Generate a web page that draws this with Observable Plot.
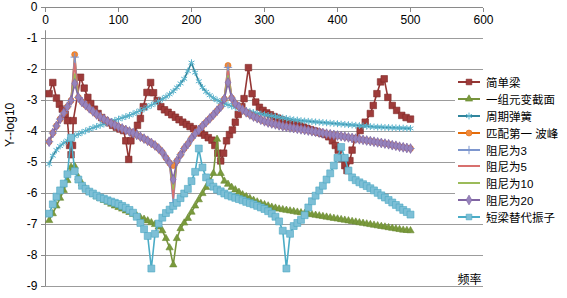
<!DOCTYPE html>
<html><head><meta charset="utf-8">
<script src="https://cdn.jsdelivr.net/npm/d3@7"></script>
<script src="https://cdn.jsdelivr.net/npm/@observablehq/plot@0.6"></script>
<style>
body{margin:0;background:#fff;}
#wrap{position:relative;width:567px;height:298px;font-family:"Liberation Sans","Noto Sans CJK SC",sans-serif;}
#wrap > svg{position:absolute;left:0;top:0;}
#legend{position:absolute;left:455px;top:73.5px;width:112px;height:150px;background:#fff;}
.row{height:16.9px;display:flex;align-items:center;font-size:11.5px;white-space:nowrap;color:#000;}
.row svg{flex:none;margin-left:3px;margin-right:6px;}
</style></head><body><div id="wrap"><div id="legend"></div></div>
<script>
const xTicks = [0,100,200,300,400,500,600];
const yTicks = [0,-1,-2,-3,-4,-5,-6,-7,-8,-9];
const yGrid = [-1,-2,-3,-4,-5,-6,-7,-8,-9];

const seriesNames = ["简单梁","一组元变截面","周期弹簧","匹配第一 波峰","阻尼为3","阻尼为5","阻尼为10","阻尼为20","短梁替代振子"];

const freq = [5,10,15,20,25,30,35,40,45,50,
55,60,65,70,75,80,85,90,95,100,
105,110,115,120,125,130,135,140,145,150,
155,160,165,170,175,180,185,190,195,200,
205,210,215,220,225,230,235,240,245,250,
255,260,265,270,275,280,285,290,295,300,
305,310,315,320,325,330,335,340,345,350,
355,360,365,370,375,380,385,390,395,400,
405,410,415,420,425,430,435,440,445,450,
455,460,465,470,475,480,485,490,495,500];

const simpleBeamF = [5,10,15,19,23,27,30,33,35,37,38,48,53,58,62,67,72,77,82,87,92,97,102,107,110,114,117,121,126,130,134,139,144,148,153,158,163,168,173,178,183,188,193,198,203,208,213,218,223,228,232,236,240,244,248,252,256,260,264,269,272,278,283,288,293,298,303,308,313,318,323,328,333,338,343,348,353,358,363,368,373,378,383,388,393,397,401,406,410,413,417,420,424,431,438,445,449,454,459,464,469,475,481,488,494,500];
const simpleBeam = [-2.78,-2.42,-2.92,-3.12,-3.28,-3.45,-3.65,-4.45,-4.75,-4.45,
-3.65,-2.25,-2.6,-2.9,-3.1,-3.28,-3.42,-3.55,-3.65,-3.72,
-3.8,-3.86,-3.92,-3.97,-4.3,-4.9,-4.3,-4.05,-3.8,-3.58,
-3.2,-2.74,-2.42,-2.75,-3.0,-3.2,-3.3,-3.38,-3.46,-3.54,
-3.62,-3.7,-3.77,-3.84,-3.91,-3.98,-4.05,-4.12,-4.2,-4.28,
-4.45,-4.7,-4.95,-4.7,-4.3,-4.1,-3.95,-3.7,-3.45,-3.2,
-2.94,-1.94,-2.78,-3.05,-3.22,-3.32,-3.4,-3.46,-3.52,-3.57,
-3.62,-3.66,-3.7,-3.74,-3.78,-3.82,-3.86,-3.9,-3.94,-3.98,
-4.02,-4.06,-4.1,-4.17,-4.3,-4.45,-4.6,-4.87,-5.1,-5.26,
-4.94,-4.6,-4.23,-3.97,-3.7,-3.42,-3.16,-2.78,-2.4,-2.3,
-2.9,-3.16,-3.32,-3.48,-3.55,-3.6];

const oneElement = [-6.87,-6.65,-6.4,-6.15,-5.9,-5.58,-5.15,-5.12,-5.48,-5.68,
-5.85,-5.95,-6.03,-6.1,-6.16,-6.22,-6.28,-6.34,-6.4,-6.45,
-6.5,-6.56,-6.61,-6.67,-6.72,-6.78,-6.83,-6.88,-6.94,-7.0,
-7.08,-7.2,-7.45,-7.75,-8.3,-7.45,-7.13,-6.95,-6.8,-6.6,
-6.4,-6.2,-6.0,-5.8,-5.6,-5.35,-4.25,-5.35,-5.6,-5.7,
-5.8,-5.88,-5.96,-6.04,-6.1,-6.16,-6.22,-6.27,-6.32,-6.36,
-6.4,-6.44,-6.47,-6.5,-6.52,-6.54,-6.56,-6.58,-6.6,-6.62,
-6.64,-6.66,-6.68,-6.7,-6.72,-6.74,-6.76,-6.78,-6.8,-6.82,
-6.84,-6.86,-6.88,-6.9,-6.92,-6.94,-6.96,-6.98,-7.0,-7.02,
-7.04,-7.06,-7.08,-7.1,-7.12,-7.14,-7.16,-7.18,-7.19,-7.2];

const periodicSpring = [-5.05,-4.78,-4.6,-4.47,-4.37,-4.29,-4.22,-4.15,-4.09,-4.03,
-3.98,-3.93,-3.88,-3.84,-3.8,-3.76,-3.72,-3.68,-3.64,-3.6,
-3.56,-3.52,-3.48,-3.43,-3.38,-3.32,-3.27,-3.21,-3.15,-3.09,
-3.02,-2.95,-2.88,-2.8,-2.7,-2.58,-2.45,-2.3,-2.05,-1.78,
-2.1,-2.38,-2.58,-2.72,-2.83,-2.92,-2.99,-3.05,-3.1,-3.14,
-3.18,-3.22,-3.26,-3.3,-3.33,-3.36,-3.39,-3.42,-3.44,-3.46,
-3.48,-3.5,-3.52,-3.54,-3.56,-3.58,-3.6,-3.62,-3.63,-3.65,
-3.66,-3.67,-3.68,-3.69,-3.7,-3.71,-3.72,-3.73,-3.74,-3.75,
-3.76,-3.77,-3.78,-3.79,-3.8,-3.81,-3.82,-3.83,-3.84,-3.85,
-3.86,-3.86,-3.87,-3.87,-3.88,-3.88,-3.89,-3.89,-3.9,-3.9];

const matchedPeak = [-4.33,-4.05,-3.82,-3.6,-3.4,-3.2,-3.0,-1.52,-2.9,-3.05,
-3.15,-3.25,-3.35,-3.45,-3.53,-3.6,-3.67,-3.73,-3.79,-3.85,
-3.9,-3.95,-4.0,-4.05,-4.11,-4.17,-4.23,-4.3,-4.37,-4.45,
-4.55,-4.67,-4.85,-5.02,-5.1,-4.95,-4.75,-4.55,-4.4,-4.22,
-4.07,-3.95,-3.82,-3.7,-3.58,-3.46,-3.33,-3.2,-2.95,-1.87,
-2.92,-3.1,-3.2,-3.3,-3.38,-3.45,-3.52,-3.57,-3.62,-3.67,
-3.71,-3.74,-3.77,-3.8,-3.83,-3.85,-3.87,-3.89,-3.91,-3.93,
-3.95,-3.97,-3.99,-4.01,-4.03,-4.05,-4.07,-4.09,-4.11,-4.13,
-4.15,-4.17,-4.19,-4.21,-4.23,-4.25,-4.27,-4.29,-4.31,-4.33,
-4.35,-4.37,-4.39,-4.41,-4.44,-4.46,-4.49,-4.51,-4.53,-4.55];

const damping3 = [-4.33,-4.05,-3.82,-3.6,-3.4,-3.2,-3.0,-1.6,-2.9,-3.05,
-3.15,-3.25,-3.35,-3.45,-3.53,-3.6,-3.67,-3.73,-3.79,-3.85,
-3.9,-3.95,-4.0,-4.05,-4.11,-4.17,-4.23,-4.3,-4.37,-4.45,
-4.55,-4.67,-4.85,-5.02,-6.3,-4.95,-4.75,-4.55,-4.4,-4.22,
-4.07,-3.95,-3.82,-3.7,-3.58,-3.46,-3.33,-3.2,-2.95,-1.93,
-2.92,-3.1,-3.2,-3.3,-3.38,-3.45,-3.52,-3.57,-3.62,-3.67,
-3.71,-3.74,-3.77,-3.8,-3.83,-3.85,-3.87,-3.89,-3.91,-3.93,
-3.95,-3.97,-3.99,-4.01,-4.03,-4.05,-4.07,-4.09,-4.11,-4.13,
-4.15,-4.17,-4.19,-4.21,-4.23,-4.25,-4.27,-4.29,-4.31,-4.33,
-4.35,-4.37,-4.39,-4.41,-4.44,-4.46,-4.49,-4.51,-4.53,-4.55];

const damping5 = [-4.33,-4.05,-3.82,-3.6,-3.4,-3.2,-3.0,-1.8,-2.9,-3.05,
-3.15,-3.25,-3.35,-3.45,-3.53,-3.6,-3.67,-3.73,-3.79,-3.85,
-3.9,-3.95,-4.0,-4.05,-4.11,-4.17,-4.23,-4.3,-4.37,-4.45,
-4.55,-4.67,-4.85,-5.02,-6.15,-4.95,-4.75,-4.55,-4.4,-4.22,
-4.07,-3.95,-3.82,-3.7,-3.58,-3.46,-3.33,-3.2,-2.95,-2.05,
-2.92,-3.1,-3.2,-3.3,-3.38,-3.45,-3.52,-3.57,-3.62,-3.67,
-3.71,-3.74,-3.77,-3.8,-3.83,-3.85,-3.87,-3.89,-3.91,-3.93,
-3.95,-3.97,-3.99,-4.01,-4.03,-4.05,-4.07,-4.09,-4.11,-4.13,
-4.15,-4.17,-4.19,-4.21,-4.23,-4.25,-4.27,-4.29,-4.31,-4.33,
-4.35,-4.37,-4.39,-4.41,-4.44,-4.46,-4.49,-4.51,-4.53,-4.55];

const damping10 = [-4.33,-4.05,-3.82,-3.6,-3.4,-3.2,-3.0,-2.15,-2.9,-3.05,
-3.15,-3.25,-3.35,-3.45,-3.53,-3.6,-3.67,-3.73,-3.79,-3.85,
-3.9,-3.95,-4.0,-4.05,-4.11,-4.17,-4.23,-4.3,-4.37,-4.45,
-4.55,-4.67,-4.85,-5.02,-5.85,-4.95,-4.75,-4.55,-4.4,-4.22,
-4.07,-3.95,-3.82,-3.7,-3.58,-3.46,-3.33,-3.2,-2.95,-2.2,
-2.92,-3.1,-3.2,-3.3,-3.38,-3.45,-3.52,-3.57,-3.62,-3.67,
-3.71,-3.74,-3.77,-3.8,-3.83,-3.85,-3.87,-3.89,-3.91,-3.93,
-3.95,-3.97,-3.99,-4.01,-4.03,-4.05,-4.07,-4.09,-4.11,-4.13,
-4.15,-4.17,-4.19,-4.21,-4.23,-4.25,-4.27,-4.29,-4.31,-4.33,
-4.35,-4.37,-4.39,-4.41,-4.44,-4.46,-4.49,-4.51,-4.53,-4.55];

const damping20 = [-4.33,-4.05,-3.82,-3.6,-3.4,-3.2,-3.0,-2.45,-2.9,-3.05,
-3.15,-3.25,-3.35,-3.45,-3.53,-3.6,-3.67,-3.73,-3.79,-3.85,
-3.9,-3.95,-4.0,-4.05,-4.11,-4.17,-4.23,-4.3,-4.37,-4.45,
-4.55,-4.67,-4.85,-5.02,-5.55,-4.95,-4.75,-4.55,-4.4,-4.22,
-4.07,-3.95,-3.82,-3.7,-3.58,-3.46,-3.33,-3.2,-2.95,-2.42,
-2.92,-3.1,-3.2,-3.3,-3.38,-3.45,-3.52,-3.57,-3.62,-3.67,
-3.71,-3.74,-3.77,-3.8,-3.83,-3.85,-3.87,-3.89,-3.91,-3.93,
-3.95,-3.97,-3.99,-4.01,-4.03,-4.05,-4.07,-4.09,-4.11,-4.13,
-4.15,-4.17,-4.19,-4.21,-4.23,-4.25,-4.27,-4.29,-4.31,-4.33,
-4.35,-4.37,-4.39,-4.41,-4.44,-4.46,-4.49,-4.51,-4.53,-4.55];

const shortBeam = [-6.65,-6.35,-6.1,-5.9,-5.68,-5.38,-4.2,-5.28,-5.55,-5.75,
-5.85,-5.94,-6.0,-6.07,-6.13,-6.17,-6.22,-6.26,-6.3,-6.34,
-6.4,-6.46,-6.53,-6.62,-6.75,-6.95,-7.15,-7.37,-8.42,-7.3,
-6.97,-6.78,-6.63,-6.52,-6.4,-6.3,-6.15,-6.0,-5.85,-5.6,
-5.3,-4.55,-5.16,-5.48,-5.65,-5.78,-5.87,-5.93,-6.0,-6.06,
-6.1,-6.14,-6.18,-6.22,-6.27,-6.31,-6.35,-6.4,-6.45,-6.5,
-6.57,-6.65,-6.75,-6.9,-7.2,-8.42,-7.3,-7.05,-6.95,-6.85,
-6.7,-6.45,-6.25,-6.07,-5.9,-5.75,-5.55,-5.35,-5.1,-4.85,
-4.5,-4.85,-5.26,-5.48,-5.57,-5.64,-5.7,-5.76,-5.83,-5.9,
-5.98,-6.06,-6.13,-6.21,-6.29,-6.37,-6.45,-6.53,-6.6,-6.68];

const seriesX = [simpleBeamF, freq, freq, freq, freq, freq, freq, freq, freq];
const seriesY = [simpleBeam, oneElement, periodicSpring, matchedPeak, damping3, damping5, damping10, damping20, shortBeam];

const lineColors = ["#953735","#77933C","#31859C","#E46C0A","#7D96CE","#D8706E","#9BBB59","#8064A2","#4BACC6"];
const markerSymbols = ["square","triangle","asterisk","circle","plus",null,null,"diamond","square"];
const markerR = [3.7,2.7,3.2,3.0,2.8,0,0,3.0,3.9];
const markerFill = ["#9E3B3A","#7A9A3C","none","#F08A3C","none",null,null,"#9683BC","#7DBFD6"];
const markerStroke = ["#7F2A28","#6A8A32","#5AB3CC","#E46C0A","#7D96CE",null,null,"#8064A2","#4BA8C2"];

const marks = [
  Plot.gridY(yGrid, {stroke: "#9c9c9c", strokeOpacity: 1, strokeWidth: 1}),
  Plot.ruleY([0], {stroke: "#8a8a8a", strokeWidth: 1}),
  Plot.ruleX([0], {y1: -0.75, y2: -9, stroke: "#8a8a8a", strokeWidth: 1}),
  Plot.axisY({ticks: yTicks, tickSize: 4, tickPadding: 4, tickFormat: d => String(d), label: null, stroke: "#8a8a8a", fill: "#000"}),
  Plot.axisX({anchor: "top", ticks: xTicks, tickSize: -4, tickPadding: -4, lineAnchor: "top", tickFormat: d => String(d), label: null, stroke: "#8a8a8a", fill: "#000"}),
  Plot.text(["Y--log10"], {frameAnchor: "left", rotate: -90, dx: -35, fontSize: 12, fill: "#000"}),
  Plot.text(["频率"], {frameAnchor: "bottom-right", lineAnchor: "middle", dy: -6, dx: -2, textAnchor: "end", fontSize: 12, fill: "#000"})
];

seriesNames.forEach((name, i) => {
  const rows = seriesX[i].map((f, j) => ({f, v: seriesY[i][j]}));
  marks.push(Plot.line(rows, {x: "f", y: "v", stroke: lineColors[i], strokeWidth: 1.6}));
  if (markerSymbols[i]) {
    marks.push(Plot.dot(rows, {x: "f", y: "v", symbol: markerSymbols[i], r: markerR[i],
      fill: markerFill[i], stroke: markerStroke[i], strokeWidth: markerFill[i] === "none" ? 1 : 0.6}));
  }
});

const chart = Plot.plot({
  width: 567, height: 298,
  marginLeft: 45, marginRight: 84, marginTop: 7, marginBottom: 12,
  x: {domain: [0, 600]},
  y: {domain: [-9, 0]},
  style: {fontFamily: '"Liberation Sans","Noto Sans CJK SC",sans-serif', fontSize: "12px", color: "#000", background: "white"},
  marks
});
const wrap = document.getElementById("wrap");
wrap.insertBefore(chart, wrap.firstChild);

// legend
const symMap = {square: d3.symbolSquare, triangle: d3.symbolTriangle, asterisk: d3.symbolAsterisk, circle: d3.symbolCircle, plus: d3.symbolPlus, diamond: d3.symbolDiamond};
const legend = d3.select("#legend");
seriesNames.forEach((name, i) => {
  const row = legend.append("div").attr("class", "row");
  const s = row.append("svg").attr("width", 22).attr("height", 12);
  s.append("line").attr("x1", 0).attr("x2", 22).attr("y1", 6).attr("y2", 6)
    .attr("stroke", lineColors[i]).attr("stroke-width", 2);
  if (markerSymbols[i]) {
    const r = Math.min(markerR[i], 3.2);
    s.append("path").attr("d", d3.symbol(symMap[markerSymbols[i]], Math.PI * r * r)())
      .attr("transform", "translate(11,6)")
      .attr("fill", markerFill[i]).attr("stroke", markerStroke[i])
      .attr("stroke-width", markerFill[i] === "none" ? 1 : 0.6);
  }
  row.append("span").text(name);
});
</script></body></html>
